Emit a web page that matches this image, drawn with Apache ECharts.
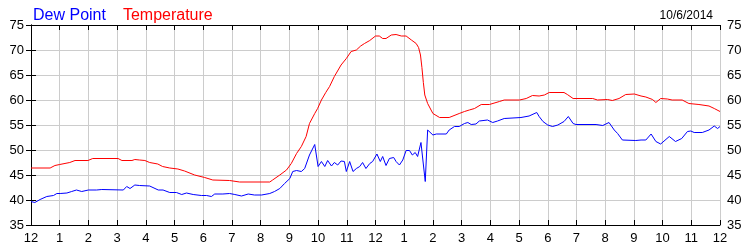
<!DOCTYPE html>
<html>
<head>
<meta charset="utf-8">
<script src="https://cdn.jsdelivr.net/npm/echarts@6/dist/echarts.min.js"></script>
<style>html,body{margin:0;padding:0;background:#fff}#c{width:750px;height:250px}</style>
</head>
<body>
<div id="c"></div>
<script>
// Time of day in minutes after midnight, with readings (°F)
const hourLabels = ['12','1','2','3','4','5','6','7','8','9','10','11','12','1','2','3','4','5','6','7','8','9','10','11','12'];
const dateLabel = '10/6/2014';

const tempMinutes = [0,40,50,60,81,92,119,129,182,190,211,217,227,238,248,265,275,290,307,321,342,363,380,415,436,499,505,520,534,544,555,565,575,582,593,599,607,616,624,634,648,659,669,680,689,697,708,720,728,735,742,753,763,774,784,795,805,810,814,817,820,823,829,840,854,874,895,906,916,927,941,958,979,989,1021,1035,1048,1062,1073,1083,1114,1121,1133,1174,1184,1205,1215,1229,1243,1261,1275,1285,1299,1306,1316,1330,1340,1361,1375,1396,1417,1428,1440];
const tempValues  = [46.4,46.4,46.9,47.1,47.5,47.9,47.9,48.3,48.3,47.9,47.9,48.1,48.0,47.9,47.5,47.2,46.7,46.4,46.2,45.8,45.0,44.5,44.0,43.9,43.6,43.6,44.0,45.0,46.0,47.3,49.3,50.7,52.7,55.3,57.3,58.3,60.0,61.5,62.7,64.7,67.0,68.3,69.7,70.0,70.8,71.3,71.9,72.8,72.8,72.3,72.3,73.0,73.1,72.8,72.8,72.0,71.3,70.5,69.0,66.5,63.5,61.0,59.3,57.3,56.5,56.5,57.3,57.7,58.0,58.3,59.1,59.1,59.7,60.0,60.0,60.3,60.9,60.8,61.0,61.5,61.5,61.1,60.3,60.3,60.0,60.1,59.9,60.3,61.1,61.2,60.8,60.6,60.1,59.5,60.3,60.2,60.0,60.0,59.3,59.1,58.8,58.3,57.7];

const dewMinutes = [0,8,19,33,47,54,61,64,75,85,95,106,120,137,148,193,200,207,217,227,248,266,276,290,304,315,325,339,356,367,377,384,401,415,426,440,454,467,482,499,509,520,530,541,547,555,565,572,582,593,600,607,614,620,628,634,641,648,655,659,666,673,680,687,693,700,708,714,723,730,735,742,749,758,763,770,777,784,791,797,803,808,815,819,824,829,840,847,868,874,885,895,906,913,920,930,937,954,965,975,989,1024,1041,1057,1062,1070,1080,1090,1101,1114,1123,1133,1139,1181,1195,1208,1219,1226,1236,1264,1275,1285,1296,1306,1316,1334,1347,1360,1372,1379,1386,1403,1417,1428,1435,1440];
const dewValues  = [39.7,39.5,40.1,40.7,40.9,41.3,41.3,41.7,41.4,41.7,42.0,41.7,42.0,42.0,42.1,42.0,42.7,42.3,43.0,42.9,42.8,42.0,42.0,41.5,41.5,41.1,41.4,41.1,40.9,40.9,40.7,41.2,41.2,41.3,41.1,40.8,41.2,41.0,41.0,41.3,41.7,42.3,43.3,44.3,45.7,45.9,45.7,46.3,49.0,51.1,46.7,47.7,46.7,47.9,46.8,47.5,47.0,47.8,47.7,45.7,47.7,45.7,46.3,46.7,47.5,46.3,47.3,47.7,49.2,47.7,48.7,46.9,48.3,48.5,47.7,47.0,48.0,49.9,49.9,49.0,49.5,48.7,51.5,48.0,43.7,54.0,53.0,53.2,53.2,54.0,54.7,54.7,55.3,55.5,55.1,55.2,55.8,56.0,55.5,55.8,56.3,56.5,56.8,57.5,56.7,55.7,55.0,54.7,55.0,55.7,56.7,55.3,55.1,55.1,54.9,55.5,54.0,53.3,52.0,51.9,52.0,52.0,53.2,51.7,51.2,52.7,51.7,52.3,53.7,53.8,53.5,53.5,54.0,54.8,54.3,54.7];

const zip = (xs, ys) => xs.map((x, i) => [x, ys[i]]);
const font = 'Liberation Sans, Arial, sans-serif';
const chart = echarts.init(document.getElementById('c'), null, {renderer: 'canvas'});

const yCommon = {
  type: 'value', min: 35, max: 75, interval: 5,
  axisLine: {show: true, lineStyle: {color: '#000', width: 1}},
  axisTick: {show: true, inside: true, length: 5, lineStyle: {color: '#000'}},
  axisLabel: {color: '#000', fontFamily: font, fontSize: 13, margin: 7},
  splitLine: {show: false}
};

chart.setOption({
  animation: false,
  backgroundColor: '#fff',
  grid: {left: 31, right: 30, top: 25, bottom: 25, containLabel: false},
  title: {
    text: dateLabel, right: 32, top: 5,
    textStyle: {color: '#000', fontFamily: font, fontSize: 12, fontWeight: 'normal'}
  },
  legend: {
    left: 23, top: 3, icon: 'none', itemWidth: 0, itemGap: 12, selectedMode: false,
    textStyle: {fontFamily: font, fontSize: 16},
    data: [
      {name: 'Dew Point', textStyle: {color: '#0000ff'}},
      {name: 'Temperature', textStyle: {color: '#ff0000'}}
    ]
  },
  xAxis: [{
    type: 'value', min: 0, max: 1440, interval: 60, position: 'bottom',
    axisLine: {show: true, onZero: false, lineStyle: {color: '#000', width: 1}},
    axisTick: {show: true, inside: true, length: 5, lineStyle: {color: '#000'}},
    axisLabel: {color: '#000', fontFamily: font, fontSize: 13, margin: 7,
      formatter: v => hourLabels[Math.round(v / 60)]},
    splitLine: {show: true, lineStyle: {color: '#cccccc', width: 1}}
  }, {
    type: 'value', min: 0, max: 1440, interval: 60, position: 'top',
    axisLine: {show: true, onZero: false, lineStyle: {color: '#000', width: 1}},
    axisTick: {show: true, inside: true, length: 5, lineStyle: {color: '#000'}},
    axisLabel: {show: false},
    splitLine: {show: false}
  }],
  yAxis: [
    Object.assign({}, yCommon, {position: 'left', splitLine: {show: true, lineStyle: {color: '#cccccc', width: 1}}}),
    Object.assign({}, yCommon, {position: 'right'})
  ],
  series: [
    {name: 'Dew Point', type: 'line', data: zip(dewMinutes, dewValues), showSymbol: false,
     lineStyle: {color: '#0000ff', width: 1}, itemStyle: {color: '#0000ff'}},
    {name: 'Temperature', type: 'line', data: zip(tempMinutes, tempValues), showSymbol: false,
     lineStyle: {color: '#ff0000', width: 1}, itemStyle: {color: '#ff0000'}}
  ]
});
</script>
</body>
</html>
